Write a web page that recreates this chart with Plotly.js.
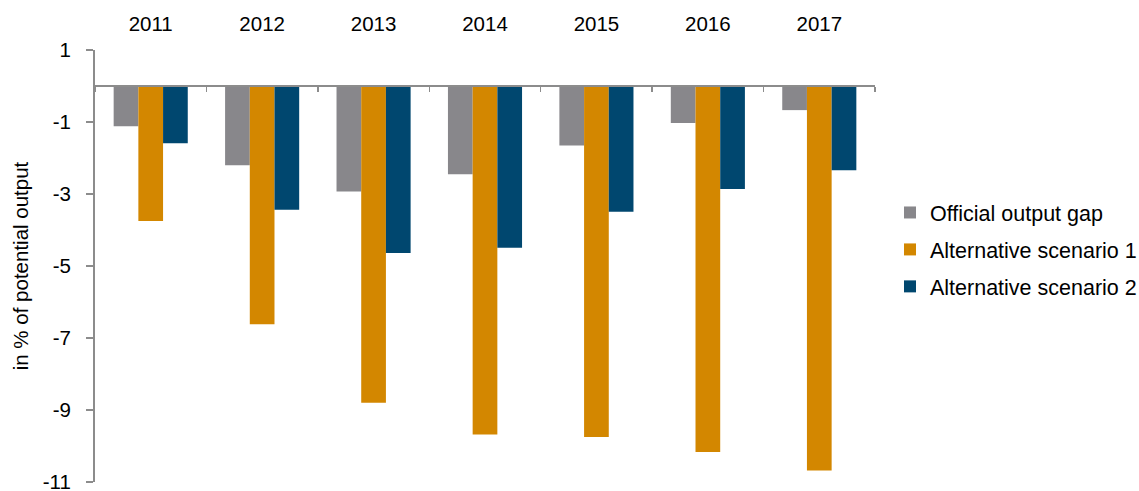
<!DOCTYPE html>
<html>
<head>
<meta charset="utf-8">
<script src="https://cdn.plot.ly/plotly-3.0.1.min.js"></script>
<style>
html,body{margin:0;padding:0;background:#fff;overflow:hidden;}
#chart{width:1139px;height:500px;}
</style>
</head>
<body>
<div id="chart"></div>
<script>
const years = ["2011", "2012", "2013", "2014", "2015", "2016", "2017"];
const officialGap = [-1.12, -2.20, -2.93, -2.45, -1.65, -1.03, -0.67];
const altScenario1 = [-3.75, -6.62, -8.80, -9.68, -9.75, -10.17, -10.68];
const altScenario2 = [-1.59, -3.44, -4.64, -4.49, -3.49, -2.86, -2.34];
const seriesNames = ["Official output gap", "Alternative scenario 1", "Alternative scenario 2"];
const yTickVals = [1, -1, -3, -5, -7, -9, -11];
const yTickText = ["1", "-1", "-3", "-5", "-7", "-9", "-11"];

const FONT = "Liberation Sans, Arial, sans-serif";
const colors = ["#88878B", "#D38700", "#00476F"];
const series = [officialGap, altScenario1, altScenario2];

const traces = series.map((vals, i) => ({
  type: "bar",
  name: seriesNames[i],
  x: years,
  y: vals,
  marker: {color: colors[i], line: {width: 0}},
  legendgroup: "g" + i,
  hoverinfo: "x+y+name"
}));

// invisible helper trace that carries the zero-line axis with boundary ticks
traces.push({
  type: "scatter",
  mode: "none",
  x: years,
  y: years.map(() => null),
  xaxis: "x2",
  showlegend: false,
  hoverinfo: "skip"
});

const plotTop = 49.5, plotBottom = 482;
const zeroFrac = (plotBottom - 85.5) / (plotBottom - plotTop);

const layout = {
  width: 1139,
  height: 500,
  margin: {l: 95, r: 264, t: 49.5, b: 18, pad: 0, autoexpand: false},
  paper_bgcolor: "#ffffff",
  plot_bgcolor: "#ffffff",
  font: {family: FONT, size: 20.5, color: "#000000"},
  barmode: "group",
  bargap: 0.335,
  bargroupgap: 0,
  showlegend: true,
  legend: {
    xref: "container", yref: "container",
    x: 890 / 1139, xanchor: "left",
    y: 1 - 192 / 500, yanchor: "top",
    font: {family: FONT, size: 21.5, color: "#000000"},
    traceorder: "grouped",
    tracegroupgap: 6,
    bgcolor: "rgba(0,0,0,0)"
  },
  xaxis: {
    type: "category",
    side: "top",
    anchor: "y",
    range: [-0.5, 6.5],
    showline: false,
    showgrid: false,
    zeroline: false,
    ticks: "",
    ticklabelstandoff: 14,
    tickfont: {family: FONT, size: 20.5, color: "#000000"}
  },
  xaxis2: {
    type: "category",
    overlaying: "x",
    anchor: "free",
    position: zeroFrac,
    side: "bottom",
    range: [-0.5, 6.5],
    showline: true,
    linecolor: "#8C8C8C",
    linewidth: 2,
    showgrid: false,
    zeroline: false,
    ticks: "outside",
    tickson: "boundaries",
    ticklen: 5,
    tickwidth: 1.5,
    tickcolor: "#8C8C8C",
    showticklabels: false
  },
  yaxis: {
    range: [-11, 1],
    tickvals: yTickVals,
    ticktext: yTickText,
    showline: true,
    linecolor: "#8C8C8C",
    linewidth: 2,
    showgrid: false,
    zeroline: false,
    ticks: "outside",
    ticklen: 7,
    tickwidth: 1.5,
    tickcolor: "#8C8C8C",
    ticklabelstandoff: 11,
    tickfont: {family: FONT, size: 20.5, color: "#000000"},
    automargin: false,
    title: {
      text: "in % of potential output",
      font: {family: FONT, size: 20.5, color: "#000000"},
      standoff: 9
    }
  }
};

Plotly.newPlot("chart", traces, layout, {displayModeBar: false, staticPlot: true});
</script>
</body>
</html>
